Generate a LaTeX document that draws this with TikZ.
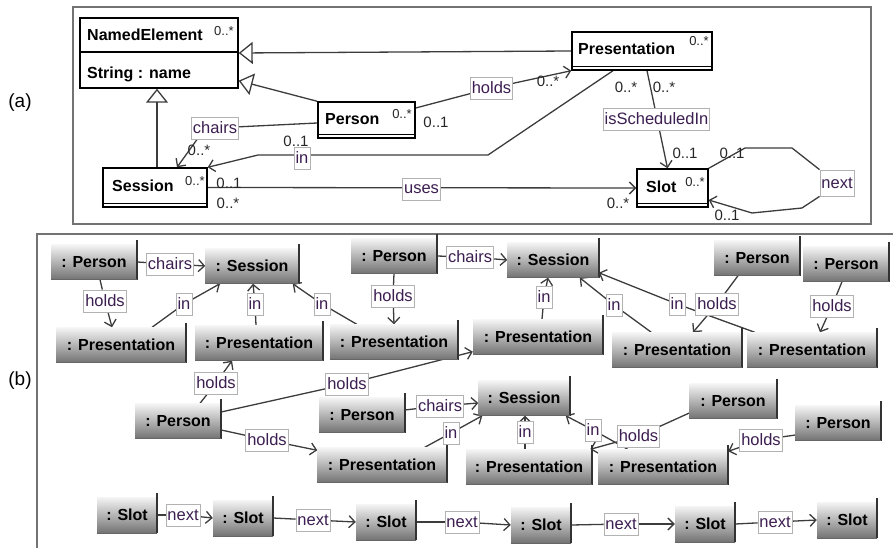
\documentclass[tikz,border=0pt]{standalone}
\usepackage{fontspec}
\setmainfont{Liberation Sans}
\usetikzlibrary{arrows.meta,calc}
\pgfdeclarelayer{bg}
\pgfsetlayers{bg,main}
\definecolor{labtxt}{RGB}{60,30,80}
\definecolor{linec}{RGB}{60,60,60}
\tikzset{
 cls/.style={draw=black, line width=1.4pt, fill=white, inner sep=0pt},
 clsname/.style={font=\bfseries\fontsize{16}{18}\selectfont, anchor=west, inner sep=0pt},
 mult/.style={font=\fontsize{15}{16}\selectfont, inner sep=0pt, text=black!85},
 cmult/.style={font=\fontsize{13}{14}\selectfont, inner sep=0pt, text=black!85},
 lab/.style={draw=black!30, line width=0.8pt, fill=white, font=\fontsize{16.5}{18}\selectfont, text=labtxt, inner xsep=1.5pt, inner ysep=0pt, minimum height=22pt},
 conn/.style={draw=linec, line width=1.3pt},
 arr/.style={conn, -{Straight Barb[length=6pt,width=12pt,line width=1.3pt]}},
 gen/.style={conn, -{Triangle[open,length=14pt,width=22pt,line width=1.3pt]}},
 obj/.style={top color=black!4, bottom color=black!55, minimum height=35pt, inner sep=0pt, font=\bfseries\fontsize{16}{18}\selectfont},
 objedge/.style={draw=black!80, line width=2pt},
 frm/.style={draw=black!55, line width=1.6pt},
 side/.style={font=\fontsize{19}{20}\selectfont, inner sep=0pt},
}
\begin{document}
\begin{tikzpicture}[x=1pt,y=-1pt]
\useasboundingbox (0,0) rectangle (893,548);
% frames
\draw[frm] (73,7) rectangle (871,224);
\draw[frm] (893,234) -- (37,234) -- (37,548);
\node[side] (lbla) at (20,103) {(a)};
\node[side] (lblb) at (20,381) {(b)};

% ---------- (a) class diagram ----------
\node[cls, minimum width=158pt, minimum height=70pt] (ne) at (159,53) {};
\draw[line width=1.4pt] ([yshift=1pt]ne.west) -- ([yshift=1pt]ne.east);
\node[clsname] (nen) at (87,35) {NamedElement};
\node[clsname] (nea) at (87,74) {String : name};
\node[cmult] (nem) at (224,31) {0..*};

\node[cls, minimum width=97pt, minimum height=36pt] (person) at (366.5,120) {};
\node[clsname] (personn) at (325,119) {Person};
\node[cmult] (personm) at (402,114) {0..*};

\node[cls, minimum width=104pt, minimum height=39pt] (session) at (155,187.5) {};
\node[clsname] (sessionn) at (112,186) {Session};
\node[cmult] (sessionm) at (195,181) {0..*};

\node[cls, minimum width=140pt, minimum height=38pt] (pres) at (642,51) {};
\node[clsname] (presn) at (578,49) {Presentation};
\node[cmult] (presm) at (699,41) {0..*};

\node[cls, minimum width=71pt, minimum height=38pt] (slot) at (672.5,188) {};
\node[clsname] (slotn) at (646,187) {Slot};
\node[cmult] (slotm) at (695,182) {0..*};

\foreach \n in {person,session,pres,slot}
  \draw[line width=1pt] ([yshift=4pt]\n.south west) -- ([yshift=4pt]\n.south east);

\node[lab] (la_chairs) at (215,128) {chairs};
\node[lab] (la_in) at (302,158) {in};
\node[lab] (la_holds) at (491.5,88) {holds};
\node[lab] (la_uses) at (421.5,189) {uses};
\node[lab] (la_isch) at (656.5,119) {isScheduledIn};
\node[lab, minimum height=26pt] (la_next) at (837,183) {next};

\node[mult] (m1) at (199,150) {0..*};
\node[mult] (m2) at (296,141) {0..1};
\node[mult] (m3) at (436,122) {0..1};
\node[mult] (m4) at (548,81) {0..*};
\node[mult] (m5) at (229,183) {0..1};
\node[mult] (m6) at (228,203) {0..*};
\node[mult] (m7) at (618,203) {0..*};
\node[mult] (m8) at (626,87) {0..*};
\node[mult] (m9) at (664,87) {0..*};
\node[mult] (m10) at (685,153) {0..1};
\node[mult] (m11) at (732,153) {0..1};
\node[mult] (m12) at (727,215) {0..1};

% ---------- (b) object diagram ----------
\node[obj, minimum width=86pt] (p1) at (94,262) {: Person};
\node[obj, minimum width=93pt] (s1) at (252,266) {: Session};
\node[obj, minimum width=129pt] (pr1) at (121,345) {: Presentation};
\node[obj, minimum width=128pt] (pr2) at (259,343) {: Presentation};
\node[obj, minimum width=85pt] (p2) at (394,256) {: Person};
\node[obj, minimum width=91pt] (s2) at (553,260) {: Session};
\node[obj, minimum width=128pt] (pr3) at (394,342) {: Presentation};
\node[obj, minimum width=130pt] (pr4) at (538,337) {: Presentation};
\node[obj, minimum width=85pt] (p3) at (757,258) {: Person};
\node[obj, minimum width=85pt] (p4) at (846,264) {: Person};
\node[obj, minimum width=129pt] (pr5) at (677,350) {: Presentation};
\node[obj, minimum width=130pt] (pr6) at (812,350) {: Presentation};
\node[obj, minimum width=86pt] (p5) at (178,421) {: Person};
\node[obj, minimum width=85pt] (p6) at (362,415) {: Person};
\node[obj, minimum width=129pt] (pr7) at (382,465) {: Presentation};
\node[obj, minimum width=91pt] (s3) at (524,398) {: Session};
\node[obj, minimum width=126pt] (pr8) at (529,467) {: Presentation};
\node[obj, minimum width=130pt] (pr9) at (663,467) {: Presentation};
\node[obj, minimum width=87pt] (p7) at (733,401) {: Person};
\node[obj, minimum width=85pt] (p8) at (838,423) {: Person};
\node[obj, minimum width=60pt, minimum height=36pt] (sl1) at (127,515) {: Slot};
\node[obj, minimum width=60pt, minimum height=36pt] (sl2) at (243,518) {: Slot};
\node[obj, minimum width=60pt, minimum height=36pt] (sl3) at (386,522) {: Slot};
\node[obj, minimum width=60pt, minimum height=36pt] (sl4) at (541,525) {: Slot};
\node[obj, minimum width=60pt, minimum height=36pt] (sl5) at (705,524) {: Slot};
\node[obj, minimum width=60pt, minimum height=36pt] (sl6) at (847,520) {: Slot};
\foreach \n in {p1,s1,pr1,pr2,p2,s2,pr3,pr4,p3,p4,pr5,pr6,p5,p6,pr7,s3,pr8,pr9,p7,p8,sl1,sl2,sl3,sl4,sl5,sl6}{
  \draw[objedge] ([yshift=4pt]\n.north east) -- (\n.south east);
  \draw[draw=black!60, line width=1pt] (\n.south west) -- (\n.south east);
}

\node[lab] (ch1) at (170,264) {chairs};
\node[lab] (ho1) at (105,301) {holds};
\node[lab] (in1) at (184,304) {in};
\node[lab] (in2) at (255,304) {in};
\node[lab] (in3) at (322,304) {in};
\node[lab] (ch2) at (470,257) {chairs};
\node[lab] (ho2) at (393,296) {holds};
\node[lab] (in4) at (544,297) {in};
\node[lab] (in5) at (614,305) {in};
\node[lab] (in6) at (677,304) {in};
\node[lab] (ho3) at (717,304) {holds};
\node[lab] (ho4) at (832,306) {holds};
\node[lab] (ho5) at (216,383) {holds};
\node[lab] (ho6) at (347,384) {holds};
\node[lab] (ho7) at (267,440) {holds};
\node[lab] (ch3) at (440,406) {chairs};
\node[lab] (in7) at (451,433) {in};
\node[lab] (in8) at (525,432) {in};
\node[lab] (in9) at (593,430) {in};
\node[lab] (ho8) at (638.5,436) {holds};
\node[lab] (ho9) at (761,440) {holds};
\node[lab] (n1) at (183,515) {next};
\node[lab] (n2) at (313,520) {next};
\node[lab] (n3) at (462,522) {next};
\node[lab] (n4) at (621,524) {next};
\node[lab] (n5) at (775,522) {next};

\begin{pgfonlayer}{bg}
% (a) connectors
\draw[gen] (pres.west) -- (ne.east);
\draw[gen] (person.north west) -- ([yshift=8pt]ne.south east);
\draw[gen] ([xshift=2pt]session.north) -- ([xshift=-2pt]ne.south);
\draw[conn] ([yshift=-3pt]person.west) -- (la_chairs);
\draw[arr] ([xshift=6pt]la_chairs.south west) -- ([xshift=22pt]session.north);
\draw[arr] ([xshift=-29pt]pres.south) -- (488,155) -- (258,155) -- (session.north east);
\draw[conn] ([yshift=12pt]person.east) -- (la_holds);
\draw[arr] (la_holds) -- (pres.south west);
\draw[arr] (session.east) -- (slot.west);
\draw[arr] ([xshift=5pt]pres.south) -- ([xshift=-5pt]slot.north);
\draw[conn] (slot.north east) -- (745,148) -- (792,148) -- (la_next.north west);
\draw[arr] (la_next.south west) -- (802,208) -- (752,213) -- ([yshift=-12pt]slot.east);

% (b) connectors
\draw[conn] (p1.east) -- (ch1);
\draw[arr] (ch1) -- (s1.west);
\draw[conn] ([xshift=6pt]p1.south) -- (ho1);
\draw[arr] (ho1) -- ([xshift=-9pt]pr1.north);
\draw[arr] ([xshift=31pt]pr1.north) -- (in1.center) -- ([xshift=-32pt]s1.south);
\draw[arr] ([xshift=-3pt]pr2.north) -- (in2.center) -- ([xshift=1pt]s1.south);
\draw[arr] ([xshift=27pt]pr3.north west) -- (in3.center) -- ([xshift=-6pt]s1.south east);
\draw[conn] (p2.east) -- (ch2);
\draw[arr] (ch2) -- (s2.west);
\draw[arr] (p2.south) -- (ho2.center) -- (pr3.north);
\draw[arr] ([xshift=4pt]pr4.north) -- (in4.center) -- ([xshift=-5pt]s2.south);
\draw[arr] ([xshift=39pt]pr5.north west) -- (in5.center) -- ([xshift=-19pt]s2.south east);
\draw[arr] ([xshift=8pt]pr6.north west) -- (in6.center) -- ([yshift=5pt]s2.south east);
\draw[arr] ([xshift=-19pt]p3.south) -- (ho3.center) -- ([xshift=16pt]pr5.north);
\draw[arr] ([xshift=-4pt]p4.south) -- (ho4.center) -- ([xshift=8pt]pr6.north);
\draw[arr] ([xshift=22pt]p5.north) -- (ho5.center) -- ([xshift=-27pt]pr2.south);
\draw[arr] ([yshift=9pt]p5.east) -- (ho6.center) -- ([yshift=3pt]pr4.south west);
\draw[arr] ([yshift=-9pt]p5.east) -- (ho7.center) -- ([yshift=-3pt]pr7.north west);
\draw[conn] ([yshift=5pt]p6.east) -- (ch3);
\draw[arr] (ch3) -- ([yshift=-5pt]s3.west);
\draw[arr] ([xshift=-22pt]pr7.north east) -- (in7.center) -- ([xshift=4pt]s3.south west);
\draw[arr] ([xshift=-4pt]pr8.north) -- (in8.center) -- ([xshift=1pt]s3.south);
\draw[arr] ([xshift=30pt]pr9.north west) -- (in9.center) -- ([xshift=-4pt]s3.south east);
\draw[arr] ([yshift=-12pt]p7.west) -- (ho8.center) -- ([xshift=-2pt]pr8.north east);
\draw[arr] ([yshift=-12pt]p8.west) -- (ho9.center) -- ([yshift=-2pt]pr9.north east);
\draw[conn] (sl1.east) -- (n1);
\draw[arr] (n1) -- (sl2.west);
\draw[conn] (sl2.east) -- (n2);
\draw[arr] (n2) -- (sl3.west);
\draw[conn] (sl3.east) -- (n3);
\draw[arr] (n3) -- (sl4.west);
\draw[conn] (sl4.east) -- (n4);
\draw[arr] (n4) -- (sl5.west);
\draw[conn] (sl5.east) -- (n5);
\draw[arr] (n5) -- (sl6.west);
\end{pgfonlayer}
\end{tikzpicture}
\end{document}
